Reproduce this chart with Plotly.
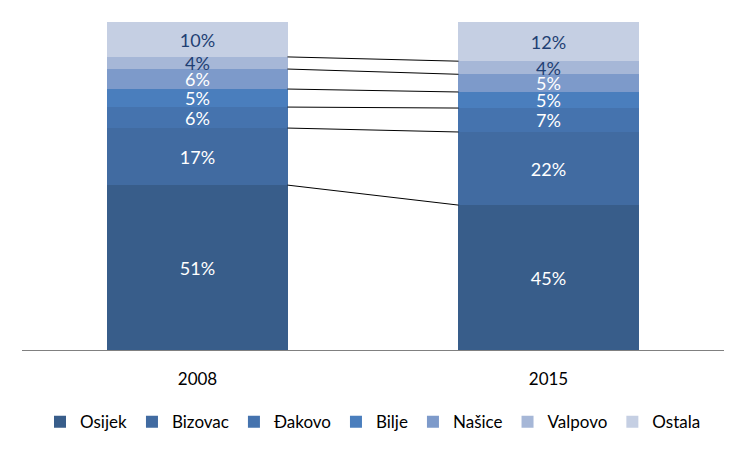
import plotly.graph_objects as go

years = ["2008", "2015"]
cities = ["Osijek", "Bizovac", "Đakovo", "Bilje", "Našice", "Valpovo", "Ostala"]
# estimated shares (%)
shares_2008 = [50.3, 17.4, 6.4, 5.5, 6.1, 3.7, 10.6]
shares_2015 = [44.2, 22.3, 7.3, 4.9, 5.4, 4.0, 11.9]
# labels as printed on the chart
labels_2008 = ["51%", "17%", "6%", "5%", "6%", "4%", "10%"]
labels_2015 = ["45%", "22%", "7%", "5%", "5%", "4%", "12%"]

colors = ["#385D8A", "#416BA1", "#4573AE", "#4A7EBD", "#7D9ACA", "#A6B7D7", "#C5CFE3"]
text_colors = ["white", "white", "white", "white", "white", "#1F3F73", "#1F3F73"]
FONT = "Lato"
BAR_W = 0.513

fig = go.Figure()
for i, c in enumerate(cities):
    fig.add_trace(go.Bar(
        name=c, x=years, y=[shares_2008[i], shares_2015[i]],
        text=[labels_2008[i], labels_2015[i]],
        textposition="inside", insidetextanchor="middle", textangle=0,
        constraintext="none", cliponaxis=False,
        textfont=dict(family=FONT, size=18, color=text_colors[i]),
        marker=dict(color=colors[i], line=dict(width=0)),
        width=BAR_W,
    ))

# connector lines between segment tops
cum_a, cum_b = 0.0, 0.0
for i in range(len(cities) - 1):
    cum_a += shares_2008[i]
    cum_b += shares_2015[i]
    fig.add_shape(type="line", xref="x", yref="y",
                  x0=0 + BAR_W / 2, y0=cum_a, x1=1 - BAR_W / 2, y1=cum_b,
                  line=dict(color="black", width=1))

fig.update_layout(
    barmode="stack",
    width=738, height=448,
    margin=dict(l=14, r=22, t=14, b=106),
    plot_bgcolor="white", paper_bgcolor="white",
    showlegend=True,
    legend=dict(orientation="h", x=0.5, xanchor="center", y=-0.22, yanchor="middle",
                font=dict(family=FONT, size=17, color="black"),
                traceorder="normal", itemwidth=30),
    xaxis=dict(type="category", range=[-0.5, 1.5], showline=True, linecolor="#808080",
               linewidth=1, ticks="", ticklabelstandoff=14,
               tickfont=dict(family=FONT, size=17, color="black"),
               showgrid=False),
    yaxis=dict(range=[0, 100.05], visible=False, showgrid=False),
    font=dict(family=FONT),
)

fig.write_html("out.html")
